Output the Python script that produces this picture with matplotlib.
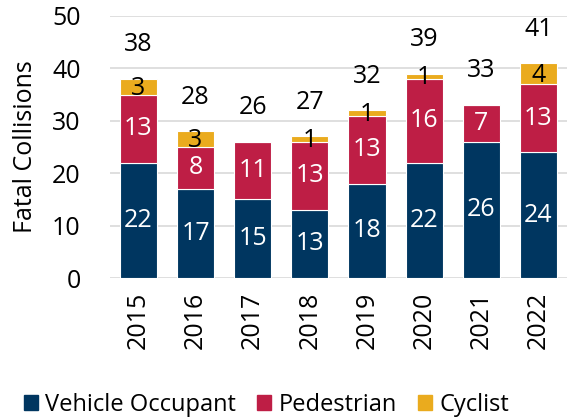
import matplotlib
matplotlib.use("Agg")
import matplotlib.pyplot as plt
from matplotlib.patches import Patch
import numpy as np

plt.rcParams["font.family"] = ["Open Sans", "DejaVu Sans"]

years = ["2015", "2016", "2017", "2018", "2019", "2020", "2021", "2022"]
vehicle = [22, 17, 15, 13, 18, 22, 26, 24]
pedestrian = [13, 8, 11, 13, 13, 16, 7, 13]
cyclist = [3, 3, 0, 1, 1, 1, 0, 4]
totals = [38, 28, 26, 27, 32, 39, 33, 41]

c_veh = "#003660"
c_ped = "#BE1E45"
c_cyc = "#EAAB1E"

fig = plt.figure(figsize=(5.69, 4.19), dpi=100)
ax = fig.add_axes([0.193, 0.3365, 0.8035, 0.6255])

x = np.arange(len(years))
w = 0.65
veh = np.array(vehicle)
ped = np.array(pedestrian)
cyc = np.array(cyclist)

ax.bar(x, veh, w, color=c_veh, edgecolor="white", linewidth=0.8, zorder=3)
ax.bar(x, ped, w, bottom=veh, color=c_ped, edgecolor="white", linewidth=0.8, zorder=3)
ax.bar(x, cyc, w, bottom=veh + ped, color=c_cyc, edgecolor="white", linewidth=0.8, zorder=3)

fs = 18
for i in range(len(years)):
    ax.text(x[i], veh[i] / 2, str(veh[i]), ha="center", va="center",
            color="white", fontsize=fs, zorder=4)
    ax.text(x[i], veh[i] + ped[i] / 2, str(ped[i]), ha="center", va="center",
            color="white", fontsize=fs, zorder=4)
    if cyc[i] > 0:
        ax.text(x[i], veh[i] + ped[i] + cyc[i] / 2 - 0.3, str(cyc[i]), ha="center",
                va="center", color="black", fontsize=fs, zorder=4)
    ax.text(x[i], totals[i] + 6.5, str(totals[i]), ha="center", va="center",
            color="black", fontsize=fs, zorder=4)

ax.set_xlim(-0.5, 7.5)
ax.set_ylim(0, 50)
ax.set_yticks([0, 10, 20, 30, 40, 50])
ax.yaxis.grid(True, color="#d9d9d9", linewidth=1.2, zorder=0)
ax.set_axisbelow(True)
for s in ax.spines.values():
    s.set_visible(False)
ax.tick_params(axis="both", length=0, labelsize=fs)
ax.tick_params(axis="y", pad=21)
ax.tick_params(axis="x", pad=10)
ax.set_xticks(x)
ax.set_xticklabels(years, rotation=90)
ax.set_ylabel("Fatal Collisions", fontsize=fs, labelpad=10)

handles = [Patch(color=c_veh, label="Vehicle Occupant"),
           Patch(color=c_ped, label="Pedestrian"),
           Patch(color=c_cyc, label="Cyclist")]
fig.legend(handles=handles, loc="lower center", bbox_to_anchor=(0.468, -0.045),
           ncol=3, frameon=False, fontsize=17, handlelength=0.6, handleheight=0.6,
           handletextpad=0.3, columnspacing=0.9)

fig.savefig("out.png", dpi=100)
